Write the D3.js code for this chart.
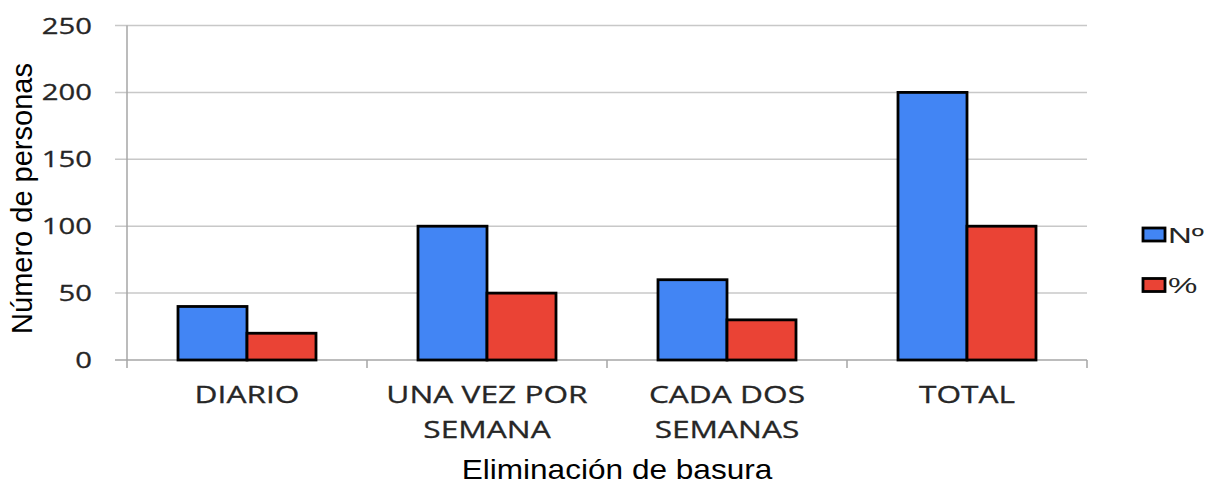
<!DOCTYPE html>
<html>
<head>
<meta charset="utf-8">
<script src="https://cdn.jsdelivr.net/npm/d3@7"></script>
<style>
    body { margin: 0; background: #fff; }
    svg { display: block; }
</style>
</head>
<body>
<svg id="chart" width="1215" height="484"></svg>
<script>
// data
const categories = [['DIARIO'], ['UNA VEZ POR', 'SEMANA'], ['CADA DOS', 'SEMANAS'], ['TOTAL']];
const seriesNames = ['Nº', '%'];
const numero = [40, 100, 60, 200];
const porcentaje = [20, 50, 30, 100];
const yTicks = [0, 50, 100, 150, 200, 250];
const seriesColors = ['#4285f4', '#ea4335'];

const svg = d3.select('#chart');

// plot area
const plotLeft = 127;
const plotRight = 1087;
const plotTop = 25.5;
const plotBottom = 360;

const keys = categories.map((c) => c.join(' '));
const rows = keys.map((k, i) => ({key: k, values: [numero[i], porcentaje[i]]}));

const x0 = d3.scaleBand()
    .domain(keys)
    .range([plotLeft, plotRight])
    .paddingInner(0.425)
    .paddingOuter(0.2125);

const x1 = d3.scaleBand()
    .domain(seriesNames)
    .range([0, x0.bandwidth()]);

const y = d3.scaleLinear()
    .domain([0, 250])
    .range([plotBottom, plotTop]);

// gridlines + y ticks
svg.append('g')
    .selectAll('line')
    .data(yTicks)
    .enter()
    .append('line')
    .attr('x1', plotLeft - 12)
    .attr('x2', plotRight)
    .attr('y1', (d) => y(d))
    .attr('y2', (d) => y(d))
    .attr('stroke', (d) => d === 0 ? '#a6a6a6' : '#c8c8c8')
    .attr('stroke-width', 1.5);

svg.append('g')
    .selectAll('text')
    .data(yTicks)
    .enter()
    .append('text')
    .attr('transform', (d) => `translate(92, ${y(d) + 8}) scale(1.33, 1)`)
    .attr('text-anchor', 'end')
    .style('font-family', '"Open Sans", sans-serif')
    .style('font-size', '22px')
    .attr('fill', '#262626')
    .attr('stroke', '#262626')
    .attr('stroke-width', 0.3)
    .text((d) => d);

// y axis line
svg.append('line')
    .attr('x1', plotLeft)
    .attr('x2', plotLeft)
    .attr('y1', plotTop)
    .attr('y2', plotBottom + 8)
    .attr('stroke', '#a6a6a6')
    .attr('stroke-width', 1.5);

// category boundary ticks
const step = x0.step();
svg.append('g')
    .selectAll('line')
    .data(d3.range(1, keys.length + 1))
    .enter()
    .append('line')
    .attr('x1', (i) => plotLeft + i * step)
    .attr('x2', (i) => plotLeft + i * step)
    .attr('y1', plotBottom)
    .attr('y2', plotBottom + 8)
    .attr('stroke', '#a6a6a6')
    .attr('stroke-width', 1.5);

// bars
const groups = svg.append('g')
    .selectAll('g')
    .data(rows)
    .enter()
    .append('g')
    .attr('transform', (d) => `translate(${x0(d.key)}, 0)`);

groups.selectAll('rect')
    .data((d) => d.values.map((v, i) => ({name: seriesNames[i], value: v, idx: i})))
    .enter()
    .append('rect')
    .attr('x', (d) => x1(d.name))
    .attr('y', (d) => y(d.value))
    .attr('width', x1.bandwidth())
    .attr('height', (d) => y(0) - y(d.value))
    .attr('fill', (d) => seriesColors[d.idx])
    .attr('stroke', '#000')
    .attr('stroke-width', 2.8);

// category labels
const catLabels = svg.append('g')
    .selectAll('text')
    .data(categories)
    .enter()
    .append('text')
    .attr('transform', (d, i) => `translate(${x0(keys[i]) + x0.bandwidth() / 2}, 403) scale(1.32, 1)`)
    .attr('text-anchor', 'middle')
    .style('font-family', '"Open Sans", sans-serif')
    .style('font-size', '24px')
    .attr('fill', '#262626')
    .attr('stroke', '#262626')
    .attr('stroke-width', 0.3);

catLabels.selectAll('tspan')
    .data((d) => d)
    .enter()
    .append('tspan')
    .attr('x', 0)
    .attr('y', (d, i) => i * 35)
    .text((d) => d);

// axis titles
svg.append('text')
    .attr('transform', `translate(617, 479) scale(1.17, 1)`)
    .attr('text-anchor', 'middle')
    .style('font-family', '"Liberation Sans", Arial, sans-serif')
    .style('font-size', '27px')
    .attr('fill', '#000')
    .text('Eliminación de basura');

svg.append('text')
    .attr('transform', `translate(32, ${(63 + 334) / 2}) rotate(-90)`)
    .attr('text-anchor', 'middle')
    .style('font-family', '"Liberation Sans", Arial, sans-serif')
    .style('font-size', '29px')
    .attr('fill', '#000')
    .text('Número de personas');

// legend
const legend = svg.append('g')
    .selectAll('g')
    .data(seriesNames)
    .enter()
    .append('g')
    .attr('transform', (d, i) => `translate(1143, ${228 + i * 50.5})`);

legend.append('rect')
    .attr('width', 22)
    .attr('height', 13)
    .attr('fill', (d, i) => seriesColors[i])
    .attr('stroke', '#000')
    .attr('stroke-width', 2.8);

legend.append('text')
    .attr('transform', 'translate(25, 14.5) scale(1.5, 1)')
    .style('font-family', '"Liberation Sans", Arial, sans-serif')
    .style('font-size', '22px')
    .attr('fill', '#262626')
    .text((d) => d);
</script>
</body>
</html>
